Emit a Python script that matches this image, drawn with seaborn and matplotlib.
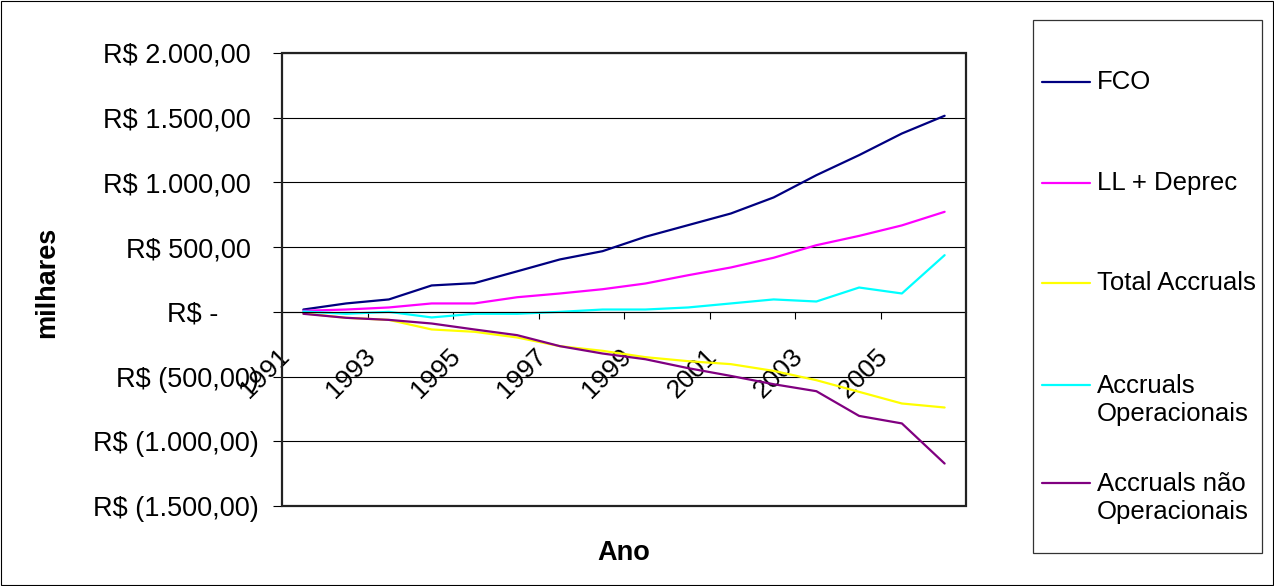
import textwrap
import pandas as pd
import matplotlib.pyplot as plt
import seaborn as sns
from matplotlib.lines import Line2D
from matplotlib.patches import Rectangle
from matplotlib.transforms import ScaledTranslation

anos = list(range(1991, 2007))
fco = [18, 65, 96, 204, 222, 313, 405, 469, 580, 670, 760, 884, 1056, 1211, 1378, 1515]
ll_deprec = [8, 18, 34, 65, 65, 113, 142, 175, 219, 283, 343, 418, 515, 587, 668, 773]
total_accruals = [-12, -46, -62, -136, -154, -198, -265, -301, -350, -381, -404, -456, -528, -618, -708, -739]
accruals_oper = [3, -15, 0, -43, -15, -15, 0, 18, 18, 34, 65, 96, 80, 188, 142, 438]
accruals_nao_oper = [-15, -46, -62, -90, -136, -180, -265, -322, -366, -435, -495, -559, -613, -804, -862, -1172]

series = ["FCO", "LL + Deprec", "Total Accruals", "Accruals Operacionais", "Accruals não Operacionais"]
cores = ["#000080", "#FF00FF", "#FFFF00", "#00FFFF", "#800080"]

y_ticks = [2000, 1500, 1000, 500, 0, -500, -1000, -1500]
y_labels = ["R$ 2.000,00", "R$ 1.500,00", "R$ 1.000,00", "R$ 500,00", "R$ -",
            "R$ (500,00)", "R$ (1.000,00)", "R$ (1.500,00)"]
x_label_anos = anos[::2]

W, H = 1274, 586
sns.set_theme(style="white")
plt.rcParams['font.family'] = ['Liberation Sans', 'DejaVu Sans']
plt.rcParams.update({"text.color": "black", "xtick.color": "black",
                     "ytick.color": "black", "axes.labelcolor": "black"})

df = pd.DataFrame({
    "Ano": anos * 5,
    "valor": fco + ll_deprec + total_accruals + accruals_oper + accruals_nao_oper,
    "serie": [s for s in series for _ in anos],
})

fig = plt.figure(figsize=(W / 100, H / 100), dpi=100)
ax = fig.add_axes([282 / W, 1 - 506 / H, 684 / W, 453 / H])

sns.lineplot(data=df, x="Ano", y="valor", hue="serie", hue_order=series,
             palette=dict(zip(series, cores)), linewidth=1.6, legend=False, ax=ax)

ax.set_xlim(1990.5, 2006.5)
ax.set_ylim(-1500, 2000)
ax.set_xlabel("")
ax.set_ylabel("")

# grade horizontal
ax.set_yticks(y_ticks)
ax.set_yticklabels(y_labels, fontsize=19.5)
ax.yaxis.grid(True, color="black", linewidth=0.8)
ax.set_axisbelow(True)
ax.tick_params(axis="y", direction="out", length=6.5, width=0.8, color="black", pad=10.5, left=True)
desloc = {v: (-8 if v > 0 else (-40 if v == 0 else 0)) for v in y_ticks}
for lab, v in zip(ax.get_yticklabels(), y_ticks):
    lab.set_transform(lab.get_transform() + ScaledTranslation(desloc[v] / 100, 0, fig.dpi_scale_trans))

# eixo x cruzando no zero
for s in ["top", "right", "left"]:
    ax.spines[s].set_visible(False)
ax.spines["bottom"].set_position(("data", 0))
ax.spines["bottom"].set_color("black")
ax.spines["bottom"].set_linewidth(0.8)
ax.set_xticks([a + 0.5 for a in anos[1:-1:2]])
ax.set_xticklabels([])
ax.set_xticks(x_label_anos, minor=True)
ax.set_xticklabels([str(a) for a in x_label_anos], minor=True, fontsize=19,
                   rotation=45, ha="right", va="top")
ax.tick_params(axis="x", which="major", direction="out", length=5, width=0.8, color="black", bottom=True)
ax.tick_params(axis="x", which="minor", length=0, pad=23, bottom=True)
for lab in ax.get_xticklabels(minor=True):
    lab.set_transform(lab.get_transform() + ScaledTranslation(-9 / 100, 0, fig.dpi_scale_trans))

ax.add_patch(Rectangle((0, 0), 1, 1, transform=ax.transAxes, fill=False,
                       edgecolor="#222222", linewidth=1.6, clip_on=False, zorder=5))

fig.text(47 / W, 1 - 282 / H, "milhares", rotation=90, fontsize=19.5, fontweight="bold",
         ha="center", va="center")
fig.text(624 / W, 1 - 553 / H, "Ano", fontsize=19.5, fontweight="bold", ha="center", va="center")

# legenda
fig.add_artist(Rectangle((1033 / W, 1 - 553 / H), 229 / W, 533 / H, transform=fig.transFigure,
                         fill=False, edgecolor="#333333", linewidth=0.9))
entradas_y = [82, 183, 283, 385, 483]
for nome, cor, py in zip(series, cores, entradas_y):
    fig.add_artist(Line2D([1042 / W, 1090 / W], [1 - py / H, 1 - py / H], color=cor,
                          linewidth=1.6, transform=fig.transFigure))
    texto = textwrap.fill(nome, 14)
    n = texto.count("\n") + 1
    fig.text(1097 / W, 1 - (py + (n - 1) * 15) / H, texto, fontsize=18.5, ha="left",
             va="center", linespacing=1.2)

fig.add_artist(Rectangle((1 / W, 1 / H), 1 - 2 / W, 1 - 2 / H, transform=fig.transFigure,
                         fill=False, edgecolor="black", linewidth=0.8))

fig.savefig("out.png", dpi=100)
